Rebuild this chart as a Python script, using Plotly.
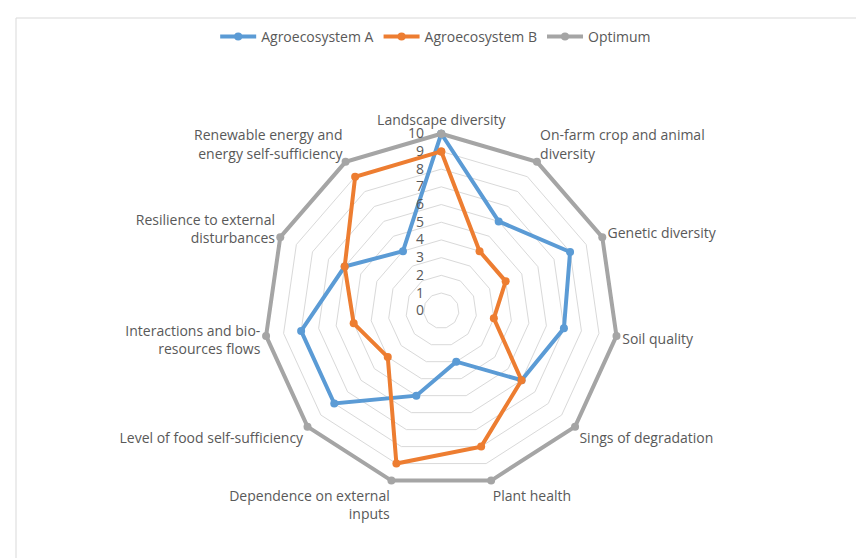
import plotly.graph_objects as go

categories = [
    "Landscape diversity",
    "On-farm crop and animal<br>diversity",
    "Genetic diversity",
    "Soil quality",
    "Sings of degradation",
    "Plant health",
    "Dependence on external<br>inputs",
    "Level of food self-sufficiency",
    "Interactions and bio-<br>resources flows",
    "Resilience to external<br>disturbances",
    "Renewable energy and<br>energy self-sufficiency",
]
agro_a = [10, 6, 8, 7, 6, 3, 5, 8, 8, 6, 4]
agro_b = [9, 4, 4, 3, 6, 8, 9, 4, 5, 6, 9]
optimum = [10, 10, 10, 10, 10, 10, 10, 10, 10, 10, 10]
radial_ticks = list(range(0, 11))

series = [
    ("Agroecosystem A", agro_a, "#5B9BD5"),
    ("Agroecosystem B", agro_b, "#ED7D31"),
    ("Optimum", optimum, "#A5A5A5"),
]

FONT = "Open Sans"
TXT = "#595959"

fig = go.Figure()
for name, vals, col in series:
    fig.add_trace(go.Scatterpolar(
        r=vals + vals[:1],
        theta=categories + categories[:1],
        mode="lines+markers",
        name=name,
        line=dict(color=col, width=4),
        marker=dict(color=col, size=8),
        cliponaxis=False,
    ))

W, H = 864, 558
RMAX = 10.3
R = 177 * RMAX / 10
cx, cy = 441 - 7.5 * RMAX / 10, 312 - 9 * RMAX / 10
fig.update_layout(
    width=W, height=H,
    margin=dict(l=0, r=0, t=0, b=0),
    paper_bgcolor="white",
    plot_bgcolor="white",
    font=dict(family=FONT, size=14, color=TXT),
    showlegend=True,
    legend=dict(orientation="h", x=0.495, xanchor="center", y=(H - 29) / H, yanchor="middle",
                font=dict(family=FONT, size=14, color=TXT), itemwidth=36, tracegroupgap=0),
    polar=dict(
        domain=dict(x=[(cx - R) / W, (cx + R) / W], y=[(H - cy - R) / H, (H - cy + R) / H]),
        bgcolor="white",
        gridshape="linear",
        radialaxis=dict(
            range=[0, RMAX], tickvals=radial_ticks,
            ticktext=[str(t) + "\u00a0\u00a0\u00a0\u00a0" for t in radial_ticks],
            angle=90, tickangle=90, side="counterclockwise",
            showline=False, ticks="", gridcolor="#D9D9D9", gridwidth=1,
            tickfont=dict(family=FONT, size=14, color=TXT),
        ),
        angularaxis=dict(
            direction="clockwise", rotation=90,
            showgrid=False, showline=False, ticks="",
            tickfont=dict(family=FONT, size=14, color=TXT),
        ),
    ),
    shapes=[dict(type="rect", xref="paper", yref="paper",
                 x0=8 / W, x1=1.02, y0=-0.02, y1=(H - 10) / H,
                 line=dict(color="#D9D9D9", width=1), fillcolor="rgba(0,0,0,0)")],
)

fig.write_html("out.html")
